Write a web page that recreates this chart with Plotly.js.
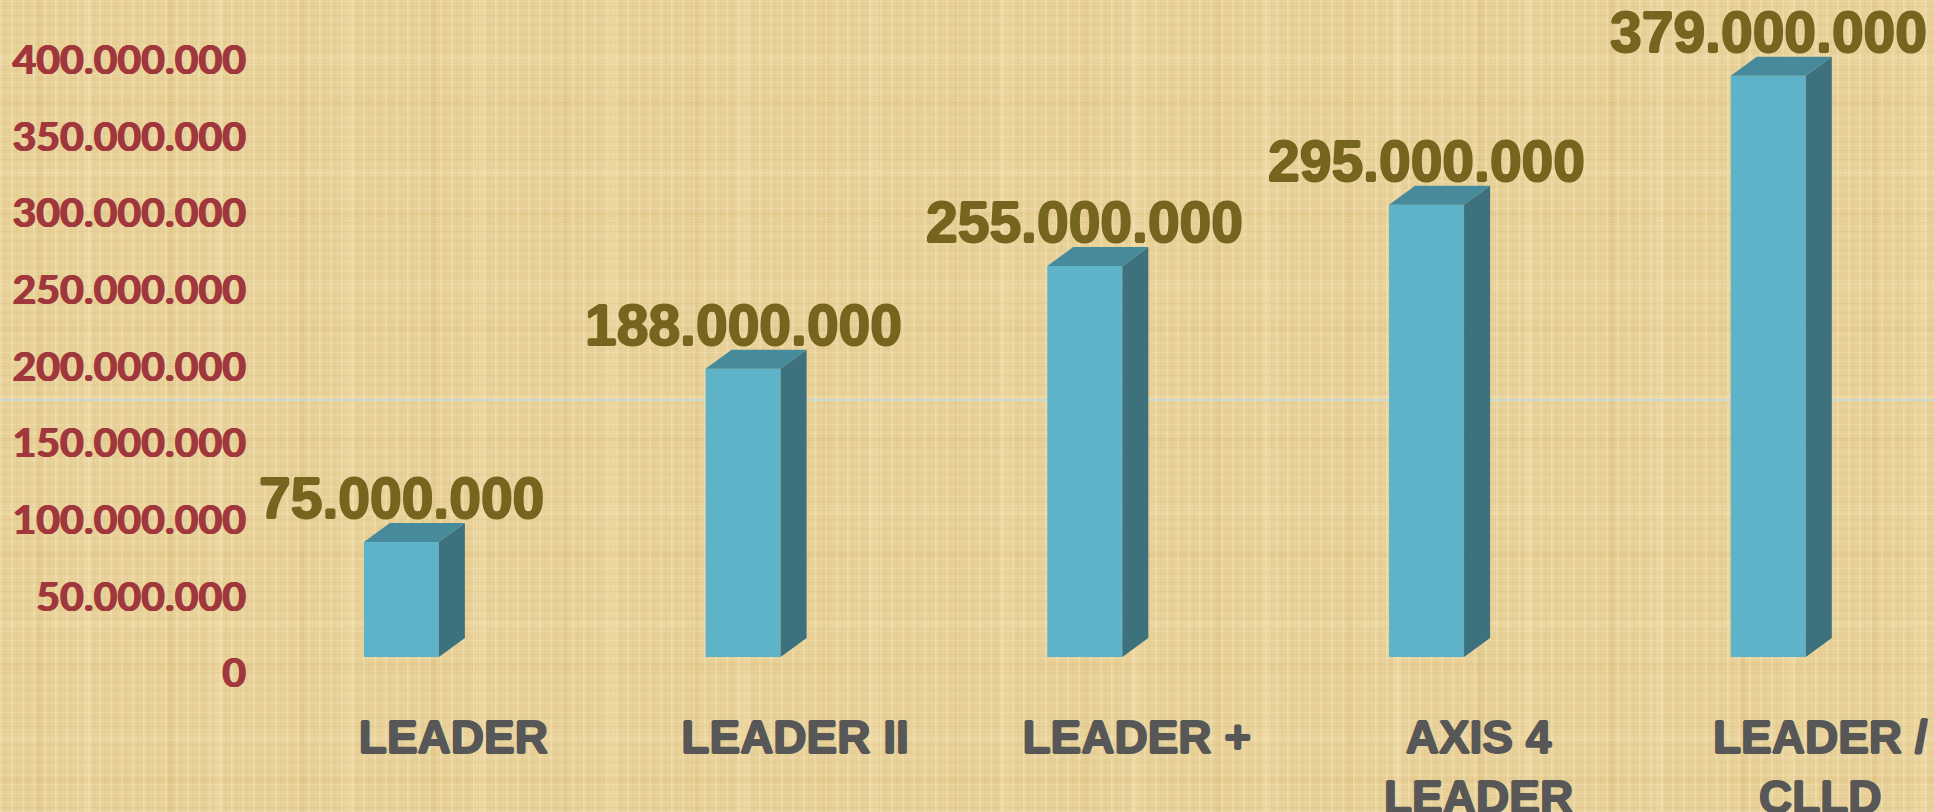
<!DOCTYPE html>
<html>
<head>
<meta charset="utf-8">
<script src="https://cdn.plot.ly/plotly-3.0.1.min.js"></script>
<style>
html, body { margin:0; padding:0; width:1934px; height:812px; overflow:hidden; }
body {
  background-color:#E8D199;
  background-image:
    repeating-linear-gradient(90deg, rgba(255,246,214,0.22) 0 2px, rgba(0,0,0,0) 2px 5px, rgba(180,140,60,0.08) 5px 6px, rgba(0,0,0,0) 6px 11px),
    repeating-linear-gradient(0deg, rgba(255,246,214,0.16) 0 1px, rgba(0,0,0,0) 1px 4px, rgba(180,140,60,0.07) 4px 5px, rgba(0,0,0,0) 5px 9px),
    repeating-linear-gradient(90deg, rgba(0,0,0,0) 0 37px, rgba(200,160,80,0.12) 37px 43px, rgba(0,0,0,0) 43px 83px, rgba(255,240,200,0.16) 83px 92px, rgba(0,0,0,0) 92px 131px),
    repeating-linear-gradient(0deg, rgba(0,0,0,0) 0 29px, rgba(200,160,80,0.10) 29px 35px, rgba(0,0,0,0) 35px 71px, rgba(255,240,200,0.14) 71px 78px, rgba(0,0,0,0) 78px 113px);
}
#chart { width:1934px; height:812px; }
</style>
</head>
<body>
<div id="chart"></div>
<script>
// ---- data ----
const categories = ["LEADER", "LEADER II", "LEADER +", "AXIS 4<br>LEADER", "LEADER /<br>CLLD"];
const values = [75000000, 188000000, 255000000, 295000000, 379000000];
const yTickValues = [0, 50000000, 100000000, 150000000, 200000000, 250000000, 300000000, 350000000, 400000000];

// ---- style / geometry ----
const W = 1934, H = 812;
const mT = 13, mB = 155, mL = 250, mR = 0;
const yMax = 420000000;
const plotH = H - mT - mB;
const pxPerUnit = plotH / yMax;
const halfW = 37.5, depthX = 26, depthY = 19;
const depthYData = depthY / pxPerUnit;
const idx = categories.map((c, i) => i);

const frontColor = "#5FB3C8", sideColor = "#3C717D", topColor = "#478A9B";

function fmt(v) { return String(v).replace(/\B(?=(\d{3})+(?!\d))/g, "."); }
function thick(c) { return `1px 0 0 ${c}, -1px 0 0 ${c}, 0 1px 0 ${c}, 0 -1px 0 ${c}`; }

const shapes = [];
idx.forEach(i => {
  const v = values[i];
  // side face
  shapes.push({
    type: "path", xref: "x", yref: "y", xsizemode: "pixel", xanchor: i,
    path: `M${halfW},0 L${halfW + depthX},${depthYData} L${halfW + depthX},${v + depthYData} L${halfW},${v} Z`,
    fillcolor: sideColor, line: { width: 0 }, layer: "above"
  });
  // top face
  shapes.push({
    type: "path", xref: "x", yref: "y", xsizemode: "pixel", xanchor: i,
    path: `M${-halfW},${v} L${halfW},${v} L${halfW + depthX},${v + depthYData} L${-halfW + depthX},${v + depthYData} Z`,
    fillcolor: topColor, line: { width: 0 }, layer: "above"
  });
});
// faint horizontal line across the slide
shapes.push({
  type: "line", xref: "paper", yref: "paper", x0: -0.16, x1: 1.0, y0: 0.399, y1: 0.399,
  line: { color: "#C6DAD5", width: 2 }, layer: "below"
});

const annotations = idx.map(i => ({
  x: i, y: values[i], xref: "x", yref: "y",
  text: fmt(values[i]), showarrow: false, yanchor: "bottom", xanchor: "center",
  yshift: 10,
  font: { family: "Liberation Sans, Arial, sans-serif", size: 57, color: "#76651F", weight: 700,
          shadow: thick("#76651F") }
}));

const trace = {
  type: "bar", x: idx, y: values, width: 0.2195,
  marker: { color: frontColor, line: { width: 0 } },
  hoverinfo: "skip", showlegend: false
};

const layout = {
  width: W, height: H,
  margin: { t: mT, b: mB, l: mL, r: mR, pad: 0 },
  paper_bgcolor: "rgba(0,0,0,0)", plot_bgcolor: "rgba(0,0,0,0)",
  separators: ",.",
  showlegend: false,
  xaxis: {
    range: [-0.443, 4.485], tickvals: idx, ticktext: categories,
    showgrid: false, zeroline: false, showline: false, ticks: "",
    ticklabelstandoff: 49, ticklabelshift: 52,
    tickfont: { family: "Liberation Sans, Arial, sans-serif", size: 46, color: "#575757", weight: 700,
                shadow: thick("#575757") }
  },
  yaxis: {
    range: [0, yMax], tickvals: yTickValues, tickformat: ",d",
    showgrid: false, zeroline: false, showline: false, ticks: "",
    ticklabelshift: 16, ticklabelstandoff: 3,
    tickfont: { family: "Lato, Open Sans, sans-serif", size: 41, color: "#A0373C", weight: 700,
                shadow: "0.7px 0 0 #A0373C, -0.7px 0 0 #A0373C" }
  },
  shapes: shapes,
  annotations: annotations
};

Plotly.newPlot("chart", [trace], layout, { staticPlot: true, displayModeBar: false });
</script>
</body>
</html>
